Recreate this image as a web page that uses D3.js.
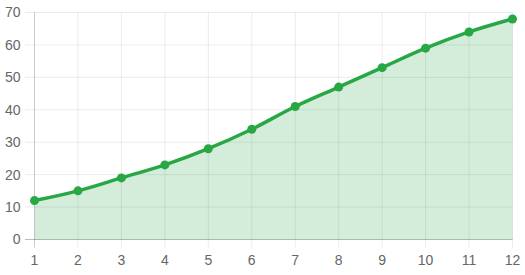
<!DOCTYPE html>
<html><head><meta charset="utf-8">
<script src="https://cdn.jsdelivr.net/npm/d3@7"></script>
<style>body{margin:0;background:#fff}svg{display:block}</style>
</head><body>
<script>
const categories = [1,2,3,4,5,6,7,8,9,10,11,12];
const values = [12,15,19,23,28,34,41,47,53,59,64,68];
const yTicks = [0,10,20,30,40,50,60,70];

const W = 525, H = 275;
const svg = d3.select("body").append("svg").attr("width", W).attr("height", H);
const x = d3.scaleLinear().domain([1,12]).range([34.5,512.5]);
const y = d3.scaleLinear().domain([0,70]).range([239.5,12.5]);

const grid = "rgba(0,0,0,0.08)";
svg.append("g").selectAll("line").data(yTicks).join("line")
  .attr("x1", 25).attr("x2", 512.5)
  .attr("y1", d=>y(d)).attr("y2", d=>y(d))
  .attr("stroke", grid).attr("stroke-width", 1);
svg.append("g").selectAll("line").data(categories).join("line")
  .attr("x1", d=>x(d)).attr("x2", d=>x(d))
  .attr("y1", 12.5).attr("y2", 247.5)
  .attr("stroke", d=> d===1 ? "rgba(0,0,0,0.2)" : grid).attr("stroke-width", 1);
svg.append("line").attr("x1",25).attr("x2",512.5).attr("y1",y(0)).attr("y2",y(0))
  .attr("stroke","rgba(0,0,0,0.2)");

const font = "'Liberation Sans', Arial, sans-serif";
svg.append("g").selectAll("text").data(yTicks).join("text")
  .attr("x", 20.5).attr("y", d=>y(d)).attr("dy","0.35em")
  .attr("text-anchor","end").attr("font-family",font).attr("font-size",14)
  .attr("fill","#666").text(d=>d);
svg.append("g").selectAll("text").data(categories).join("text")
  .attr("x", d=>x(d)).attr("y", 260.5).attr("dy","0.35em")
  .attr("text-anchor","middle").attr("font-family",font).attr("font-size",14)
  .attr("fill","#666").text(d=>d);

const pts = categories.map((c,i)=>[c, values[i]]);
const curve = d3.curveMonotoneX;
svg.append("path").datum(pts)
  .attr("d", d3.area().x(d=>x(d[0])).y0(y(0)).y1(d=>y(d[1])).curve(curve))
  .attr("fill","rgba(40,167,69,0.2)");
svg.append("path").datum(pts)
  .attr("d", d3.line().x(d=>x(d[0])).y(d=>y(d[1])).curve(curve))
  .attr("fill","none").attr("stroke","#28a745").attr("stroke-width",3.5);
svg.append("g").selectAll("circle").data(pts).join("circle")
  .attr("cx", d=>x(d[0])).attr("cy", d=>y(d[1])).attr("r",4.5)
  .attr("fill","#28a745");
</script>
</body></html>
